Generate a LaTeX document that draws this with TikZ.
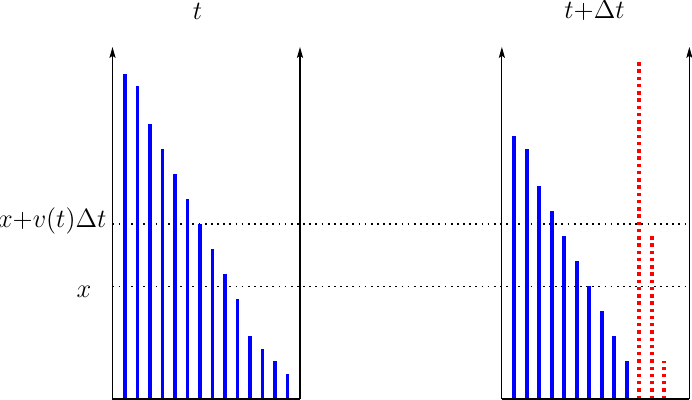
\documentclass[tikz,border=0pt]{standalone}
\usetikzlibrary{arrows.meta}
\begin{document}
\begin{tikzpicture}[x=0.2cm,y=0.2cm,
  axis/.style={line width=0.5pt,-{Stealth[length=5pt,width=2.8pt,inset=1pt]}},
  baseline line/.style={line width=0.5pt},
  bar/.style={blue,line width=1.8pt},
  redbar/.style={red,line width=1.8pt,dash pattern=on 1.5pt off 1.8pt},
  guide/.style={line width=0.5pt,dash pattern=on 0.8pt off 2pt},
  lbl/.style={inner sep=0pt,font=\fontsize{11.6pt}{14pt}\selectfont}]
\useasboundingbox (-9,-0.08) rectangle (46.36,31.92);
% guide lines
\draw[guide] (0,14) -- (46.15,14);
\draw[guide] (0,9) -- (46.15,9);
% left panel bars
\foreach \k/\h in {1/26,2/25,3/22,4/20,5/18,6/16,7/14,8/12,9/10,10/8,11/5,12/4,13/3,14/2}
  \draw[bar] (\k,0) -- (\k,\h);
% right panel bars
\begin{scope}[xshift=31.15*0.2cm]
\foreach \k/\h in {1/21,2/20,3/17,4/15,5/13,6/11,7/9,8/7,9/5,10/3}
  \draw[bar] (\k,0) -- (\k,\h);
\foreach \k/\h in {11/27,12/13,13/3}
  \draw[redbar] (\k,0) -- (\k,\h);
\end{scope}
% axes
\coordinate (L0) at (0,0);
\coordinate (L1) at (15,0);
\coordinate (LT0) at (0,28.16);
\coordinate (LT1) at (15,28.16);
\coordinate (R0) at (31.15,0);
\coordinate (R1) at (46.15,0);
\coordinate (RT0) at (31.15,28.16);
\coordinate (RT1) at (46.15,28.16);
\draw[baseline line] (L0) -- (L1);
\draw[axis] (L0) -- (LT0);
\draw[axis] (L1) -- (LT1);
\draw[baseline line] (R0) -- (R1);
\draw[axis] (R0) -- (RT0);
\draw[axis] (R1) -- (RT1);
% labels
\node[lbl,anchor=base] (tl) at (6.8,30.32) {$t$};
\node[lbl,anchor=base] (tr) at (38.56,30.45) {$t{+}\Delta t$};
\node[lbl,anchor=base east] (xv) at (-0.45,13.75) {$x{+}v(t)\Delta t$};
\node[lbl,anchor=base east] (xl) at (-1.66,8.08) {$x$};
\end{tikzpicture}
\end{document}
